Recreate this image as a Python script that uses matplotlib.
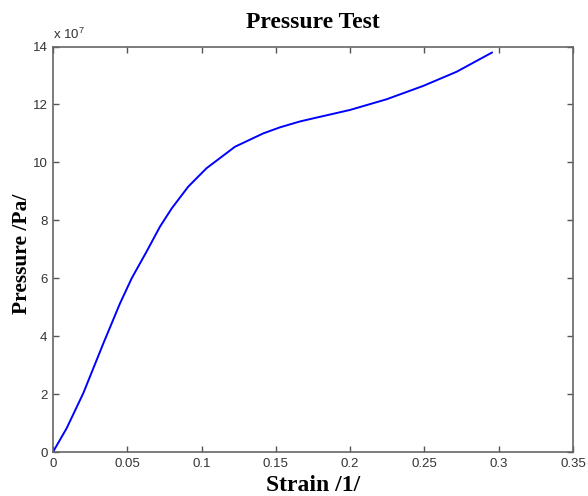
import numpy as np
import matplotlib.pyplot as plt

# Kurve
strain = [0.0, 0.0092, 0.0204, 0.0339, 0.0451, 0.053, 0.063, 0.072, 0.0799,
          0.091, 0.1034, 0.1225, 0.1415, 0.1528, 0.166, 0.1752, 0.1999,
          0.2246, 0.2492, 0.2717, 0.2954]
pressure = [0.0, 0.82, 2.03, 3.75, 5.13, 6.0, 6.92, 7.78, 8.41,
            9.16, 9.80, 10.54, 11.0, 11.21, 11.41, 11.52, 11.81,
            12.18, 12.64, 13.13, 13.79]  # x 1e7 Pa

x_ticks = [0, 0.05, 0.1, 0.15, 0.2, 0.25, 0.3, 0.35]
x_labels = ['0', '0.05', '0.1', '0.15', '0.2', '0.25', '0.3', '0.35']
y_ticks = [0, 2, 4, 6, 8, 10, 12, 14]

plt.rcParams['mathtext.default'] = 'regular'

fig = plt.figure(figsize=(5.88, 4.96), dpi=100)
ax = fig.add_axes([0.0901, 0.0887, 0.8844, 0.8175])

ax.plot(strain, pressure, color='#0000ff', linewidth=1.4)

ax.set_xlim(0, 0.35)
ax.set_ylim(0, 14)
ax.set_xticks(x_ticks)
ax.set_xticklabels(x_labels)
ax.set_yticks(y_ticks)

tick_font = {'family': 'Liberation Sans', 'size': 9.5}
for lab in ax.get_xticklabels() + ax.get_yticklabels():
    lab.set_fontfamily('Liberation Sans')
    lab.set_fontsize(9.5)
    lab.set_color('#333333')

ax.tick_params(direction='in', length=4, width=1, color='#555555',
               top=True, right=True, pad=4)
for s in ax.spines.values():
    s.set_color('#666666')
    s.set_linewidth(1.2)

# Exponent oben links wie bei MATLAB
ax.text(0.0, 1.012, r'x 10$^{7}$', transform=ax.transAxes, fontdict=tick_font,
        color='#333333', ha='left', va='bottom')

ax.set_title('Pressure Test', fontfamily='Liberation Serif', fontweight='bold',
             fontsize=17, pad=13)
ax.set_xlabel('Strain /1/', fontfamily='Liberation Serif', fontweight='bold',
              fontsize=17, labelpad=4)
ax.set_ylabel('Pressure /Pa/', fontfamily='Liberation Serif', fontweight='bold',
              fontsize=15.5)
ax.yaxis.set_label_coords(-0.04, 0.49)

fig.savefig('out.png', dpi=100)
